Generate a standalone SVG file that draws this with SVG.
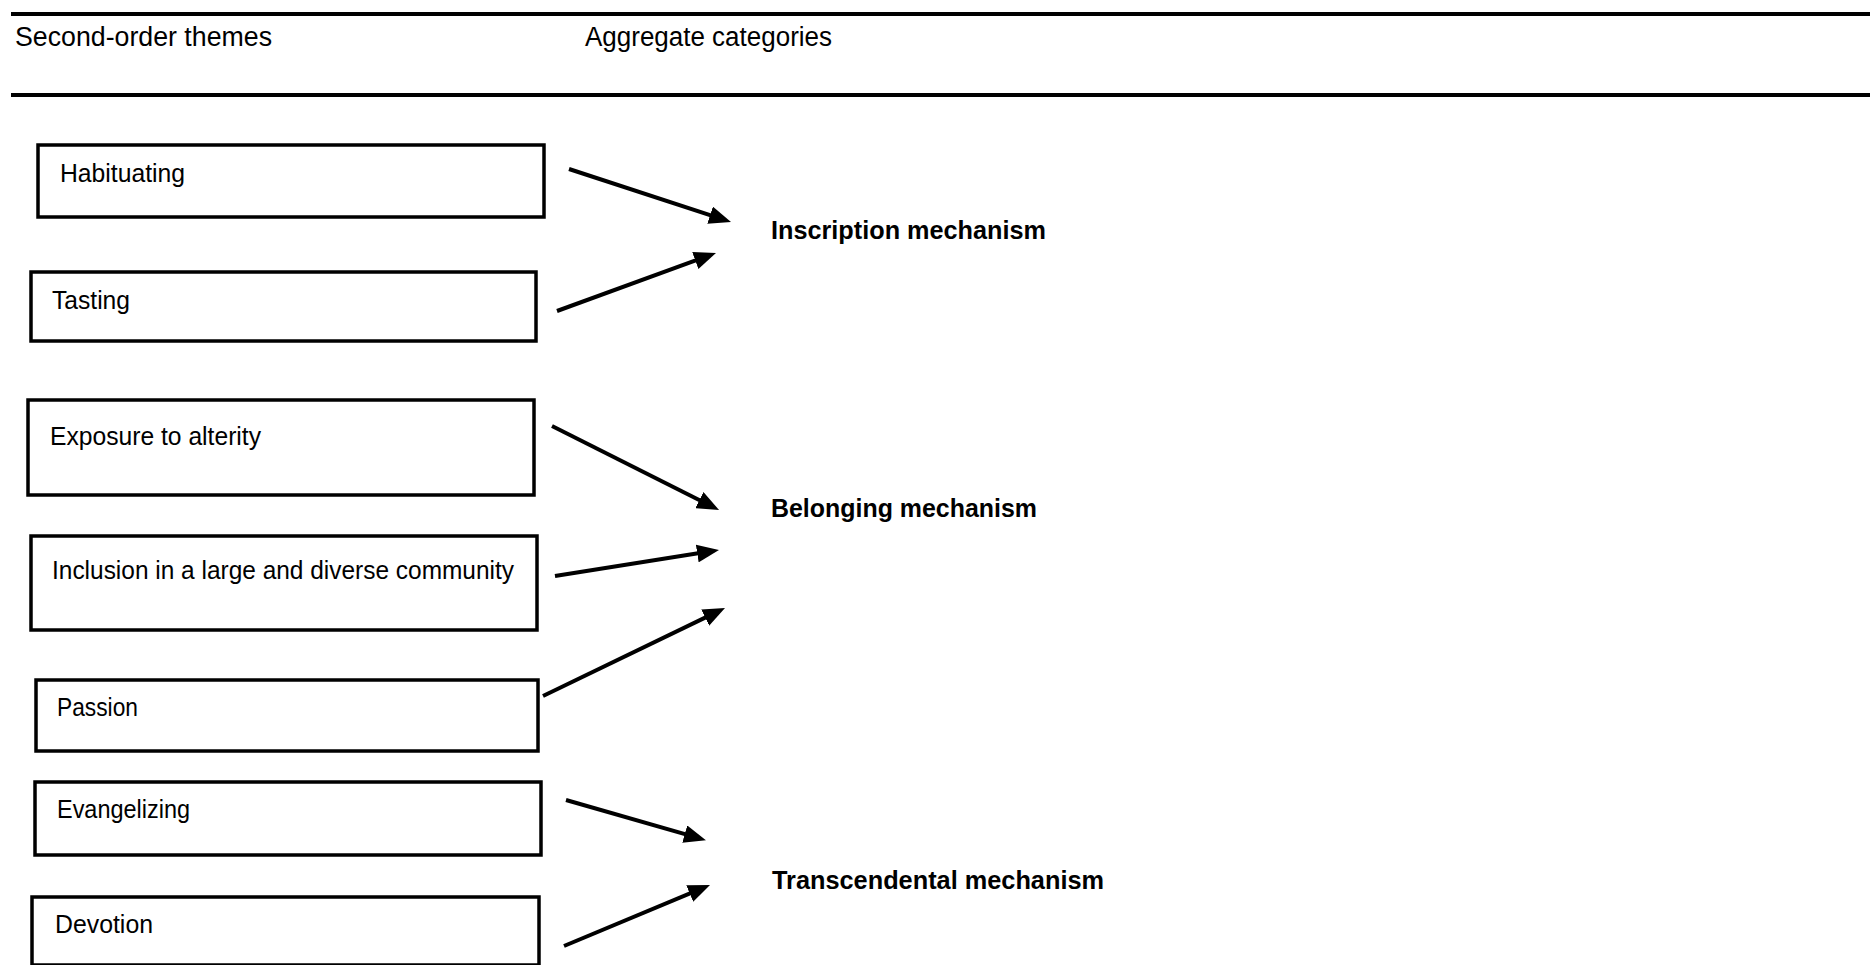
<svg xmlns="http://www.w3.org/2000/svg" width="1870" height="965" viewBox="0 0 1870 965">
<style>
.box{fill:#fff;stroke:#000;stroke-width:3.5}
.t{font-family:"Liberation Sans",Arial,sans-serif;font-size:25px;fill:#000}
.h{font-family:"Liberation Sans",Arial,sans-serif;font-size:27px;fill:#000}
.m{font-family:"Liberation Sans",Arial,sans-serif;font-size:25px;font-weight:bold;fill:#000}
.rule{stroke:#000;stroke-width:4}
.c{stroke:#000;stroke-width:4;fill:none;marker-end:url(#ah)}
</style>
<defs>
<marker id="ah" markerUnits="userSpaceOnUse" markerWidth="24" markerHeight="18" refX="12" refY="9" orient="auto">
<path d="M0,0 L22,9 L0,18 Z" fill="#000"/>
</marker>
</defs>
<rect width="1870" height="965" fill="#fff"/>
<g id="header">
<line class="rule" x1="11" y1="14" x2="1870" y2="14"/>
<line class="rule" x1="11" y1="95" x2="1870" y2="95"/>
<text class="h" x="15" y="46" textLength="257" lengthAdjust="spacingAndGlyphs">Second-order themes</text>
<text class="h" x="585" y="46" textLength="247" lengthAdjust="spacingAndGlyphs">Aggregate categories</text>
</g>
<g id="habituating">
<rect class="box" x="38" y="145" width="506" height="72"/>
<text class="t" x="60" y="182" textLength="125" lengthAdjust="spacingAndGlyphs">Habituating</text>
</g>
<g id="tasting">
<rect class="box" x="31" y="272" width="505" height="69"/>
<text class="t" x="52" y="309" textLength="78" lengthAdjust="spacingAndGlyphs">Tasting</text>
</g>
<g id="exposure">
<rect class="box" x="28" y="400" width="506" height="95"/>
<text class="t" x="50" y="445" textLength="211" lengthAdjust="spacingAndGlyphs">Exposure to alterity</text>
</g>
<g id="inclusion">
<rect class="box" x="31" y="536" width="506" height="94"/>
<text class="t" x="52" y="579" textLength="462" lengthAdjust="spacingAndGlyphs">Inclusion in a large and diverse community</text>
</g>
<g id="passion">
<rect class="box" x="36" y="680" width="502" height="71"/>
<text class="t" x="57" y="716" textLength="81" lengthAdjust="spacingAndGlyphs">Passion</text>
</g>
<g id="evangelizing">
<rect class="box" x="35" y="782" width="506" height="73"/>
<text class="t" x="57" y="818" textLength="133" lengthAdjust="spacingAndGlyphs">Evangelizing</text>
</g>
<g id="devotion">
<rect class="box" x="32" y="897" width="507" height="68"/>
<text class="t" x="55" y="933" textLength="98" lengthAdjust="spacingAndGlyphs">Devotion</text>
</g>
<g id="inscription">
<text class="m" x="771" y="239" textLength="275" lengthAdjust="spacingAndGlyphs">Inscription mechanism</text>
</g>
<g id="belonging">
<text class="m" x="771" y="517" textLength="266" lengthAdjust="spacingAndGlyphs">Belonging mechanism</text>
</g>
<g id="transcendental">
<text class="m" x="772" y="889" textLength="332" lengthAdjust="spacingAndGlyphs">Transcendental mechanism</text>
</g>
<g id="connectors">
<line class="c" x1="569" y1="169" x2="721.5" y2="218.9"/>
<line class="c" x1="557" y1="311" x2="706.6" y2="256.4"/>
<line class="c" x1="552" y1="426" x2="710.1" y2="505.5"/>
<line class="c" x1="555" y1="576" x2="709.1" y2="551.6"/>
<line class="c" x1="543" y1="696" x2="716" y2="612.4"/>
<line class="c" x1="566" y1="800" x2="696.3" y2="837.4"/>
<line class="c" x1="564" y1="946" x2="700.8" y2="888.9"/>
</g>
</svg>
